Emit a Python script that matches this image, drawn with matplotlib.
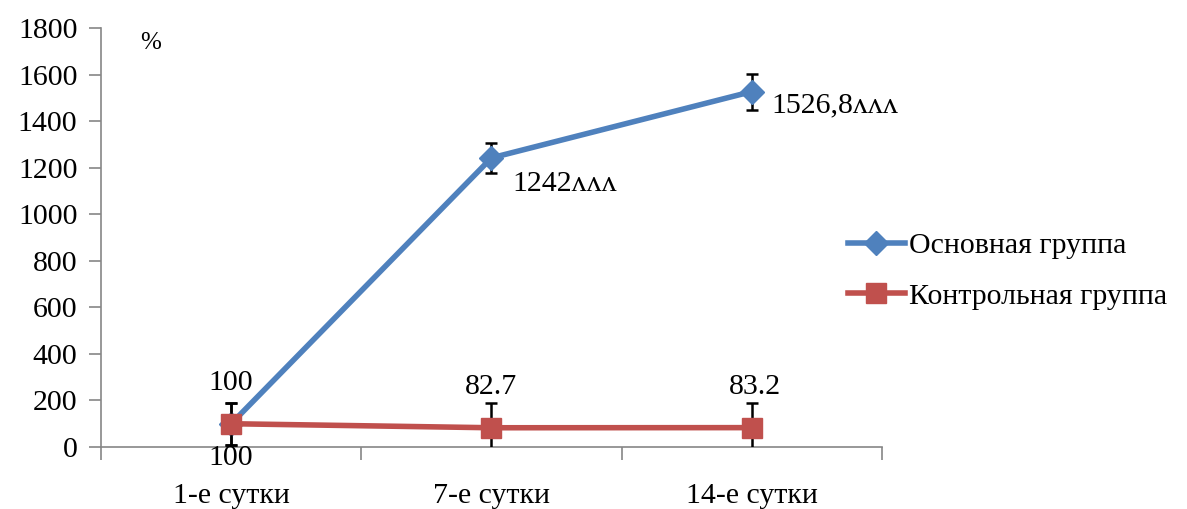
import matplotlib
matplotlib.use('Agg')
import matplotlib.pyplot as plt
from matplotlib.lines import Line2D

plt.rcParams['font.family'] = ['Liberation Serif', 'DejaVu Serif']

days = ['1-е сутки', '7-е сутки', '14-е сутки']
main_group = [100, 1242, 1526.8]
main_err = [90, 63, 77]
main_labels = ['100', '1242ʌʌʌ', '1526,8ʌʌʌ']
control_group = [100, 82.7, 83.2]
control_err = [90, 105, 105]
control_labels = ['100', '82.7', '83.2']

blue = '#4f81bd'
red = '#c0504d'
grey = '#868686'
fs = 21.5

fig = plt.figure(figsize=(11.87, 5.09), dpi=100)
ax = fig.add_axes([0.0851, 0.1218, 0.6579, 0.8232])

x = list(range(len(days)))
ax.errorbar(x, main_group, yerr=main_err, color=blue, lw=4, marker='D', ms=12,
            ecolor='black', elinewidth=1.8, capsize=4.5, capthick=1.8, zorder=3)
ax.errorbar(x, control_group, yerr=control_err, color=red, lw=4, marker='s', ms=15,
            ecolor='black', elinewidth=1.8, capsize=4.5, capthick=1.8, zorder=4)

# value labels
ax.annotate(main_labels[0], (x[0], main_group[0]), xytext=(0, -24.5),
            textcoords='offset points', ha='center', va='center', fontsize=fs)
ax.annotate(main_labels[1], (x[1], main_group[1]), xytext=(15, -19),
            textcoords='offset points', ha='left', va='center', fontsize=fs)
ax.annotate(main_labels[2], (x[2], main_group[2]), xytext=(14, -10),
            textcoords='offset points', ha='left', va='center', fontsize=fs)
for i in range(3):
    ax.annotate(control_labels[i], (x[i], control_group[i]), xytext=(2 if i == 2 else 0, 29),
                textcoords='offset points', ha='center', va='center', fontsize=fs)

ax.set_xlim(-0.5, 2.5)
ax.set_ylim(0, 1800)
ax.set_yticks(range(0, 1801, 200))
ax.set_xticks(x)
ax.set_xticklabels(days, fontsize=fs)
ax.set_xticks([-0.5, 0.5, 1.5, 2.5], minor=True)
ax.tick_params(axis='x', which='major', length=0, pad=26)
ax.tick_params(axis='x', which='minor', length=9, width=1.2, color=grey, direction='out')
ax.tick_params(axis='y', labelsize=fs, length=9, width=1.2, color=grey, pad=8)

for side in ('top', 'right'):
    ax.spines[side].set_visible(False)
for side in ('left', 'bottom'):
    ax.spines[side].set_color(grey)
    ax.spines[side].set_linewidth(1.2)

ax.text(0.05, 0.965, '%', transform=ax.transAxes, fontsize=18, va='center')

handles = [Line2D([], [], color=blue, lw=4, marker='D', ms=12),
           Line2D([], [], color=red, lw=4, marker='s', ms=15)]
fig.legend(handles, ['Основная группа', 'Контрольная группа'],
           loc='center left', bbox_to_anchor=(848 / 1187, 1 - 271 / 509),
           frameon=False, fontsize=fs, handlelength=1.9, handletextpad=0.15,
           labelspacing=0.8, borderpad=0, borderaxespad=0)

fig.savefig('out.png', dpi=100)
